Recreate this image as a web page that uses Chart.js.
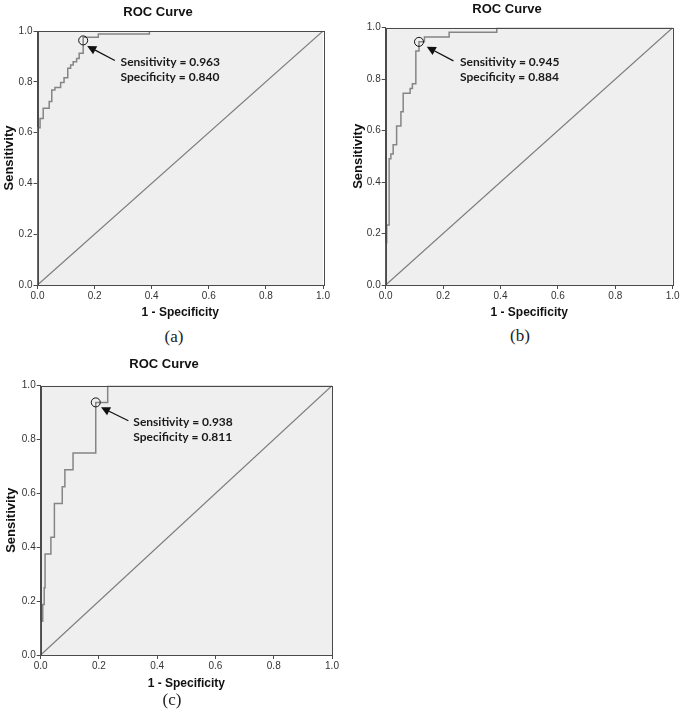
<!DOCTYPE html>
<html>
<head>
<meta charset="utf-8">
<script src="https://cdn.jsdelivr.net/npm/chart.js@4.4.1/dist/chart.umd.min.js"></script>
<style>
  body { margin:0; background:#fff; width:685px; height:718px; position:relative; overflow:hidden; }
  .box { position:absolute; }
  .cap { position:absolute; font:17px "Liberation Serif", "Times New Roman", serif; color:#222; transform:translate(-50%,-50%); white-space:nowrap; }
</style>
</head>
<body>
<div class="box" style="left:0;top:0;width:340px;height:325px"><canvas id="rocA"></canvas></div>
<div class="box" style="left:345px;top:0;width:340px;height:325px"><canvas id="rocB"></canvas></div>
<div class="box" style="left:0;top:350px;width:340px;height:345px"><canvas id="rocC"></canvas></div>
<div class="cap" style="left:174px;top:337px">(a)</div>
<div class="cap" style="left:520px;top:336px">(b)</div>
<div class="cap" style="left:172px;top:700px">(c)</div>
<script>
// axis ticks (both axes)
const axisTicks = [0, 0.2, 0.4, 0.6, 0.8, 1.0];
const refLine = [0, 1];

// ROC curve (a): 1 - specificity / sensitivity at each riser
const fprA = [0, 0, 0.009, 0.020, 0.041, 0.050, 0.061, 0.081, 0.093, 0.106, 0.116, 0.125, 0.137, 0.146, 0.160, 0.160, 0.213, 0.392, 1];
const tprA = [0, 0.619, 0.656, 0.696, 0.722, 0.768, 0.778, 0.797, 0.816, 0.853, 0.866, 0.879, 0.892, 0.912, 0.963, 0.975, 0.988, 1, 1];
const cutA = [0.963, 0.840]; // sensitivity, specificity

// ROC curve (b)
const fprB = [0, 0, 0.0035, 0.012, 0.018, 0.026, 0.038, 0.053, 0.061, 0.085, 0.093, 0.105, 0.116, 0.135, 0.221, 0.387, 1];
const tprB = [0, 0.164, 0.233, 0.491, 0.509, 0.545, 0.618, 0.673, 0.745, 0.764, 0.782, 0.909, 0.945, 0.964, 0.982, 1, 1];
const cutB = [0.945, 0.884];

// ROC curve (c)
const fprC = [0, 0, 0.007, 0.012, 0.015, 0.035, 0.047, 0.074, 0.083, 0.111, 0.189, 0.230, 1];
const tprC = [0, 0.125, 0.1875, 0.25, 0.375, 0.4375, 0.5625, 0.625, 0.6875, 0.75, 0.9375, 1, 1];
const cutC = [0.938, 0.811];

const rocDeco = {
  id: 'rocDeco',
  beforeDraw(chart, args, o) {
    const {ctx, chartArea: a} = chart;
    ctx.save();
    ctx.fillStyle = '#efefef';
    ctx.fillRect(a.left, a.top, a.right - a.left, a.bottom - a.top);
    ctx.restore();
  },
  afterDraw(chart, args, o) {
    const {ctx, chartArea: a, scales: {x, y}} = chart;
    ctx.save();
    // frame
    ctx.strokeStyle = '#4a4a4a';
    ctx.lineWidth = 1;
    ctx.strokeRect(Math.round(a.left) + 0.5, Math.round(a.top) + 0.5, Math.round(a.right - a.left), Math.round(a.bottom - a.top));
    // title
    ctx.fillStyle = '#111';
    ctx.font = 'bold 13px "Liberation Sans", Arial, sans-serif';
    ctx.textAlign = 'center';
    ctx.textBaseline = 'middle';
    ctx.fillText('ROC Curve', o.titleX, o.titleY);
    // cut-off marker
    const cx = x.getPixelForValue(1 - o.cut[1]);
    const cy = y.getPixelForValue(o.cut[0]);
    ctx.strokeStyle = '#111';
    ctx.beginPath();
    ctx.arc(cx, cy, 4.5, 0, Math.PI * 2);
    ctx.stroke();
    // arrow
    const tx = x.getPixelForValue(o.tail[0]), ty = y.getPixelForValue(o.tail[1]);
    const hx = x.getPixelForValue(o.tip[0]), hy = y.getPixelForValue(o.tip[1]);
    const ang = Math.atan2(hy - ty, hx - tx);
    const hl = 9, hw = 4.5;
    const bx = hx - hl * Math.cos(ang), by = hy - hl * Math.sin(ang);
    ctx.lineWidth = 1.3;
    ctx.beginPath();
    ctx.moveTo(tx, ty);
    ctx.lineTo(bx, by);
    ctx.stroke();
    ctx.fillStyle = '#111';
    ctx.beginPath();
    ctx.moveTo(hx, hy);
    ctx.lineTo(bx + hw * Math.sin(ang), by - hw * Math.cos(ang));
    ctx.lineTo(bx - hw * Math.sin(ang), by + hw * Math.cos(ang));
    ctx.closePath();
    ctx.fill();
    // text
    ctx.font = 'bold 12px Lato, "Open Sans", sans-serif';
    ctx.textAlign = 'left';
    ctx.fillStyle = '#1a1a1a';
    const lx = x.getPixelForValue(o.text[0]), ly = y.getPixelForValue(o.text[1]);
    ctx.fillText('Sensitivity = ' + o.cut[0].toFixed(3), lx, ly);
    ctx.fillText('Specificity = ' + o.cut[1].toFixed(3), lx, ly + 15.6);
    ctx.restore();
  }
};

function axis(title, fit, titlePad, titleSize) {
  return {
    type: 'linear', min: axisTicks[0], max: axisTicks[axisTicks.length - 1],
    afterBuildTicks: s => { s.ticks = axisTicks.map(v => ({value: v})); },
    afterFit: fit,
    ticks: {
      color: '#333', padding: 1,
      font: {family: '"Liberation Sans", Arial, sans-serif', size: 10},
      callback: v => v.toFixed(1)
    },
    grid: {drawOnChartArea: false, drawTicks: true, tickLength: 4, tickColor: '#4a4a4a'},
    border: {display: true, color: '#4a4a4a'},
    title: {
      display: true, text: title, color: '#111', padding: titlePad,
      font: {family: '"Liberation Sans", Arial, sans-serif', size: titleSize, weight: 'bold'}
    }
  };
}

function makeRoc(id, fpr, tpr, cut, g) {
  new Chart(document.getElementById(id), {
    type: 'scatter',
    data: {
      datasets: [
        {
          data: refLine.map(v => ({x: v, y: v})),
          showLine: true, pointRadius: 0, borderColor: '#7d7d7d', borderWidth: 1.2
        },
        {
          data: fpr.map((v, i) => ({x: v, y: tpr[i]})),
          showLine: true, stepped: 'before', pointRadius: 0, borderColor: '#858585', borderWidth: 1.5
        }
      ]
    },
    options: {
      responsive: true, maintainAspectRatio: false, animation: false,
      layout: {padding: {left: 0, top: g.top, right: g.right, bottom: 0}},
      plugins: {
        legend: {display: false}, tooltip: {enabled: false},
        rocDeco: {cut: cut, titleX: g.titleX, titleY: g.titleY, text: g.text, tail: g.tail, tip: g.tip}
      },
      scales: {
        x: axis('1 - Specificity', s => { s.height = g.xh; }, {top: 0, bottom: g.xTitle - 7.2}, 12),
        y: axis('Sensitivity', s => { s.width = g.left; }, {top: g.yTitle - 7.8, bottom: 0}, 13)
      }
    },
    plugins: [rocDeco]
  });
}

makeRoc('rocA', fprA, tprA, cutA, {
  left: 37.5, top: 31, right: 17, xh: 40, xTitle: 12, yTitle: 9,
  titleX: 158, titleY: 12, text: [0.291, 0.879], tail: [0.271, 0.884], tip: [0.174, 0.941]
});
makeRoc('rocB', fprB, tprB, cutB, {
  left: 40.7, top: 27.7, right: 12.3, xh: 40, xTitle: 12, yTitle: 13.3,
  titleX: 162, titleY: 9.5, text: [0.259, 0.868], tail: [0.236, 0.871], tip: [0.143, 0.926]
});
makeRoc('rocC', fprC, tprC, cutC, {
  left: 40.7, top: 35.7, right: 8, xh: 40, xTitle: 11.7, yTitle: 11.7,
  titleX: 164, titleY: 14, text: [0.318, 0.866], tail: [0.301, 0.870], tip: [0.207, 0.920]
});
</script>
</body>
</html>
